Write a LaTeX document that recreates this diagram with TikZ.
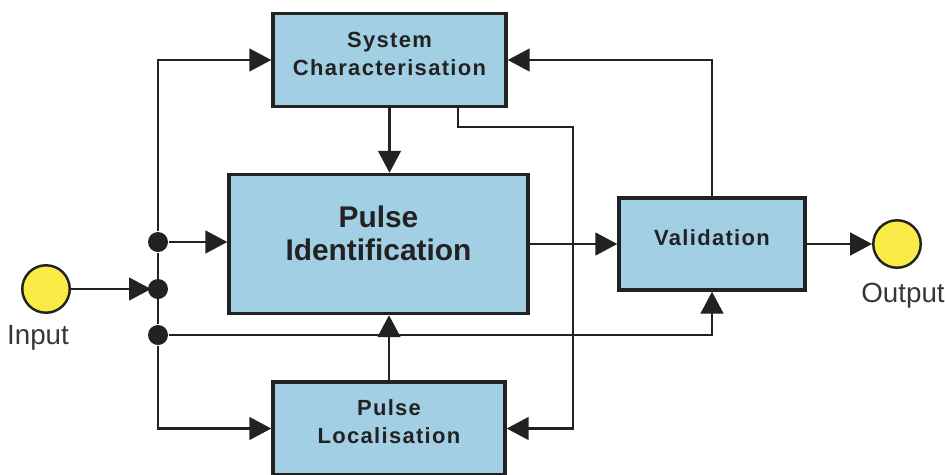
\documentclass[tikz,border=0pt]{standalone}
\usepackage{fontspec}
\setmainfont{Liberation Sans}
\newfontfamily\blockfont[LetterSpace=6]{Liberation Sans}
\usetikzlibrary{arrows.meta,positioning}

\definecolor{blockblue}{RGB}{163,207,228}
\definecolor{portyellow}{RGB}{250,235,70}
\definecolor{wire}{RGB}{34,34,34}
\definecolor{labelgray}{RGB}{55,55,55}

\tikzset{
  block/.style={draw=wire, fill=blockblue, line width=2pt, align=center, text=wire,
    font=\blockfont\bfseries\fontsize{12.5}{16}\selectfont,
    execute at end node={\rule[-7.5pt]{0pt}{0pt}}},
  bigblock/.style={block, font=\bfseries\fontsize{17}{19}\selectfont,
    execute at end node={\rule[-12pt]{0pt}{0pt}}},
  port/.style={circle, draw=wire, fill=portyellow, line width=1.4pt,
    minimum size=0.95cm, inner sep=0pt},
  portlabel/.style={text=labelgray, font=\fontsize{15.8}{19}\selectfont},
  junction/.style={circle, fill=wire, minimum size=0.4cm, inner sep=0pt}
}

\begin{document}
\begin{tikzpicture}[x=0.02cm,y=-0.02cm,>={Triangle[length=12.5pt,width=13pt]},
  line width=1.2pt, draw=wire]
  \useasboundingbox (0,0) rectangle (945,474);

  % blocks
  \node[block, minimum width=4.66cm, minimum height=1.86cm] (sysc) at (389.5,60) {System\\Characterisation};
  \node[bigblock, minimum width=5.98cm, minimum height=2.78cm] (pid) at (378.5,244) {Pulse\\Identification};
  \node[block, minimum width=3.72cm, minimum height=1.84cm] (val) at (712,244) {Validation};
  \node[block, minimum width=4.64cm, minimum height=1.86cm] (ploc) at (389,428.5) {Pulse\\Localisation};

  % in / out
  \node[port] (in) at (46,289) {};
  \node[portlabel] (inlabel) at (38,338) {Input};
  \node[port] (out) at (897,244) {};
  \node[portlabel] (outlabel) at (903,296) {Output};

  % distribution bus
  \node[junction] (j1) at (158,242) {};
  \node[junction] (j2) at (158,289) {};
  \node[junction] (j3) at (158,335) {};
  \coordinate (loopx) at (573,127);

  \draw (j1) -- (j3);
  \draw[->, shorten >=4pt] (in) -- (j2.center);
  \draw[->] (j1) |- (sysc.west);
  \draw[->] (j1) -- (j1 -| pid.west);
  \draw[->] (j3) |- (ploc.west);
  \draw[->] (j3) -| (val.south);

  % block to block
  \draw[->] (sysc.south) -- (sysc.south |- pid.north);
  \draw[->] (ploc.north) -- (ploc.north |- pid.south);
  \draw[->] ([xshift=1.37cm]sysc.south) |- (loopx) |- (ploc.east);
  \draw[->] (pid.east) -- (val.west);
  \draw[->] (val.north) |- (sysc.east);
  \draw[->] (val.east) -- (out);
\end{tikzpicture}
\end{document}
